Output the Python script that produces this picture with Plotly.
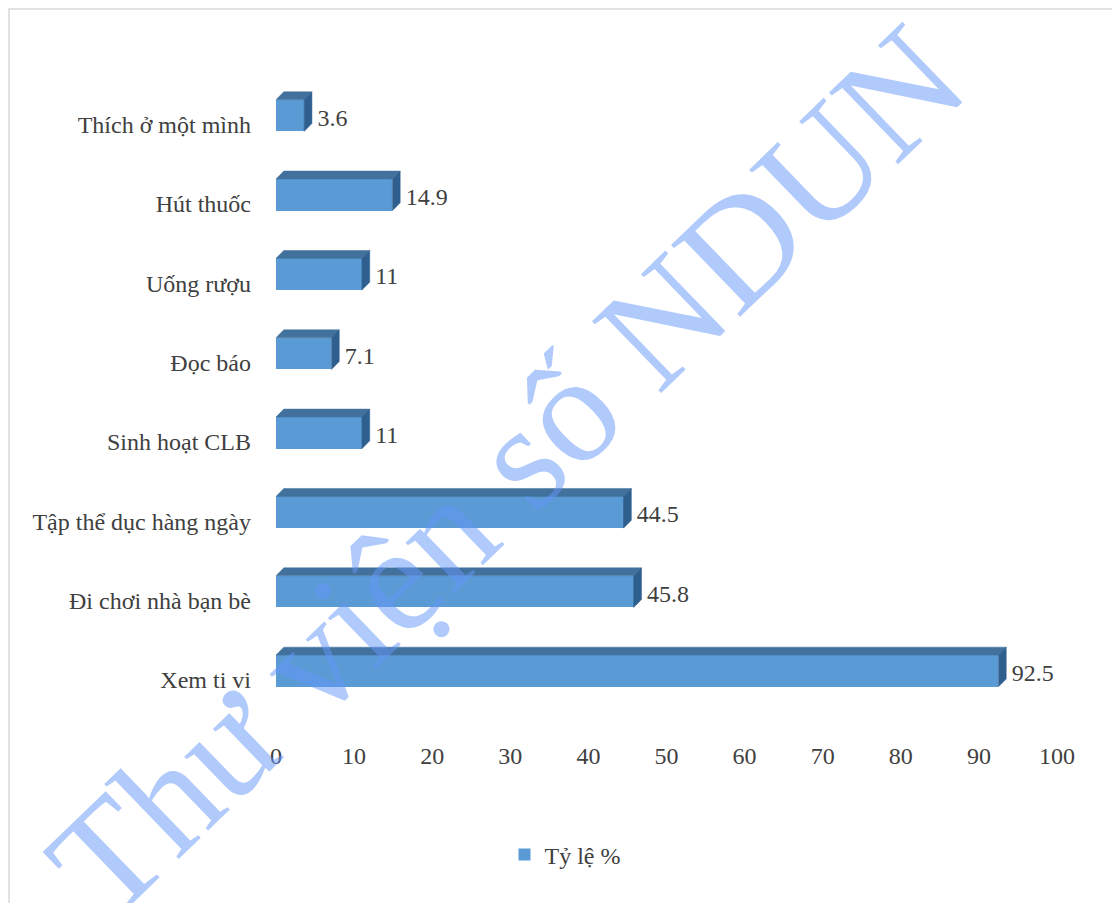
import plotly.graph_objects as go

categories = ["Xem ti vi", "Đi chơi nhà bạn bè", "Tập thể dục hàng ngày", "Sinh hoạt CLB",
              "Đọc báo", "Uống rượu", "Hút thuốc", "Thích ở một mình"]
values = [92.5, 45.8, 44.5, 11, 7.1, 11, 14.9, 3.6]
value_labels = ["92.5", "45.8", "44.5", "11", "7.1", "11", "14.9", "3.6"]
x_ticks = [0, 10, 20, 30, 40, 50, 60, 70, 80, 90, 100]
series_name = "Tỷ lệ %"
watermark = "Thư viện số NDUN"

OFF = 8  # page body margin in the browser
W, H = 1120 - OFF, 903 - OFF
L, R = 276 - OFF, 1057 - OFF      # plot area pixel edges (figure coords)
T, B = 85 - OFF, 738 - OFF
FONT = "Liberation Serif"
TXT = "#404040"

front = "#5b9bd5"
top_c = "#41719c"
side_c = "#2f5f8f"

bar_h = 0.40   # front face height (category units)
shift = 0.115  # front face centre offset above category
dx, dy = 1.0, 0.10  # depth offset

pos = list(range(len(categories)))
fig = go.Figure()
fig.add_trace(go.Bar(
    x=values, y=[p + shift for p in pos], base=0, orientation="h", width=bar_h,
    marker=dict(color=front, line=dict(width=0)), name=series_name, showlegend=True,
    hoverinfo="skip"))

tx, ty, sx, sy = [], [], [], []
for p, v in zip(pos, values):
    b = p + shift - bar_h / 2
    t = p + shift + bar_h / 2
    tx += [0, v, v + dx, dx, 0, None]
    ty += [t, t, t + dy, t + dy, t, None]
    sx += [v, v, v + dx, v + dx, v, None]
    sy += [b, t, t + dy, b + dy, b, None]
fig.add_trace(go.Scatter(x=tx, y=ty, fill="toself", fillcolor=top_c, mode="lines",
                         line=dict(width=0.5, color=top_c), showlegend=False, hoverinfo="skip"))
fig.add_trace(go.Scatter(x=sx, y=sy, fill="toself", fillcolor=side_c, mode="lines",
                         line=dict(width=0.5, color=side_c), showlegend=False, hoverinfo="skip"))
fig.add_trace(go.Scatter(x=[v + dx + 0.7 for v in values], y=[p + shift - 0.05 for p in pos],
                         mode="text", text=value_labels, textposition="middle right",
                         textfont=dict(family=FONT, size=24, color=TXT),
                         showlegend=False, hoverinfo="skip"))

def px_x(px):
    return (px - OFF - L) / (R - L)

def px_y(py):
    return (B - (py - OFF)) / (B - T)

fig.update_layout(
    width=W, height=H,
    margin=dict(l=L, r=W - R, t=T, b=H - B),
    paper_bgcolor="white", plot_bgcolor="white",
    font=dict(family=FONT, size=24, color=TXT),
    xaxis=dict(range=[0, 100], tickvals=x_ticks, showgrid=False, zeroline=False,
               showline=False, ticks="", tickfont=dict(size=24, color=TXT), ticklabelstandoff=1),
    yaxis=dict(range=[-0.73, 7.5], tickvals=pos, ticktext=categories, showgrid=False,
               zeroline=False, showline=False, ticks="", tickfont=dict(size=24, color=TXT),
               ticklabelstandoff=24),
    legend=dict(orientation="h", x=px_x(565), y=px_y(855), xanchor="center", yanchor="middle",
                font=dict(size=24, color=TXT), itemwidth=30),
    shapes=[dict(type="rect", xref="paper", yref="paper",
                 x0=px_x(9), x1=px_x(1116), y0=px_y(9), y1=px_y(910),
                 line=dict(color="#d9d9d9", width=1.5), fillcolor="rgba(0,0,0,0)", layer="below")],
    annotations=[dict(text=watermark, xref="paper", yref="paper",
                      x=px_x(506), y=px_y(472), xanchor="center", yanchor="middle",
                      textangle=-44, showarrow=False,
                      font=dict(family=FONT, size=152, color="rgba(100,150,250,0.5)"))],
    bargap=0,
)

fig.write_html("out.html")
